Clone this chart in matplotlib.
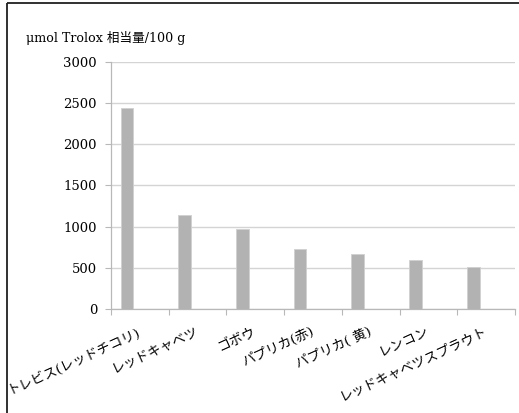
import matplotlib.pyplot as plt
from matplotlib.lines import Line2D

# antioxidant capacity per 100 g of each vegetable
vegetables = ['トレビス(レッドチコリ)', 'レッドキャベツ', 'ゴボウ', 'パプリカ(赤)',
              'パプリカ( 黄)', 'レンコン', 'レッドキャベツスプラウト']
trolox = [2440, 1140, 970, 725, 670, 600, 515]
yticks = [0, 500, 1000, 1500, 2000, 2500, 3000]

plt.rcParams['font.family'] = ['DejaVu Serif', 'Noto Sans CJK JP']

W, H = 519, 413
fig = plt.figure(figsize=(W / 100, H / 100), dpi=100)
ax = fig.add_axes([111 / W, 104 / H, 404 / W, 247.3 / H])

# bars sit left of each category centre
pos = [i - 0.225 for i in range(len(vegetables))]
ax.bar(pos, trolox, width=0.22, color='#b2b2b2', edgecolor='#d0d0d0',
       linewidth=0.6, zorder=3)

ax.set_xlim(-0.5, len(vegetables) - 0.5)
ax.set_ylim(0, 3000)
ax.set_yticks(yticks)
ax.set_yticklabels([str(v) for v in yticks], fontsize=9.5)
ax.yaxis.grid(True, color='#d4d4d4', linewidth=1.0, zorder=0)

ax.set_xticks([i - 0.5 for i in range(len(vegetables) + 1)])
ax.set_xticklabels([])
ax.tick_params(axis='x', length=4, color='#b8b8b8', width=0.8)
ax.tick_params(axis='y', length=4, color='#b8b8b8', width=0.8, pad=6)

for s in ['top', 'right']:
    ax.spines[s].set_visible(False)
for s in ['left', 'bottom']:
    ax.spines[s].set_color('#b8b8b8')
    ax.spines[s].set_linewidth(0.9)

# category names, rotated, right end under the category centre
for i, name in enumerate(vegetables):
    ax.annotate(name, xy=(i, 0), xycoords=('data', 'axes fraction'),
                xytext=(0, -16), textcoords='offset points',
                rotation=24.5, rotation_mode='anchor', ha='right', va='center',
                fontsize=9.6)

fig.text(26 / W, 1 - 38 / H, 'μmol Trolox 相当量/100 g', fontsize=9.1,
         ha='left', va='center')

# chart frame edges (top and left)
fig.add_artist(Line2D([7 / W, 1], [1 - 3 / H, 1 - 3 / H], color='#202020',
                      lw=1.3, solid_capstyle='butt'))
fig.add_artist(Line2D([7 / W, 7 / W], [0, 1 - 3 / H], color='#202020',
                      lw=1.3, solid_capstyle='butt'))

fig.savefig('out.png', dpi=100)
